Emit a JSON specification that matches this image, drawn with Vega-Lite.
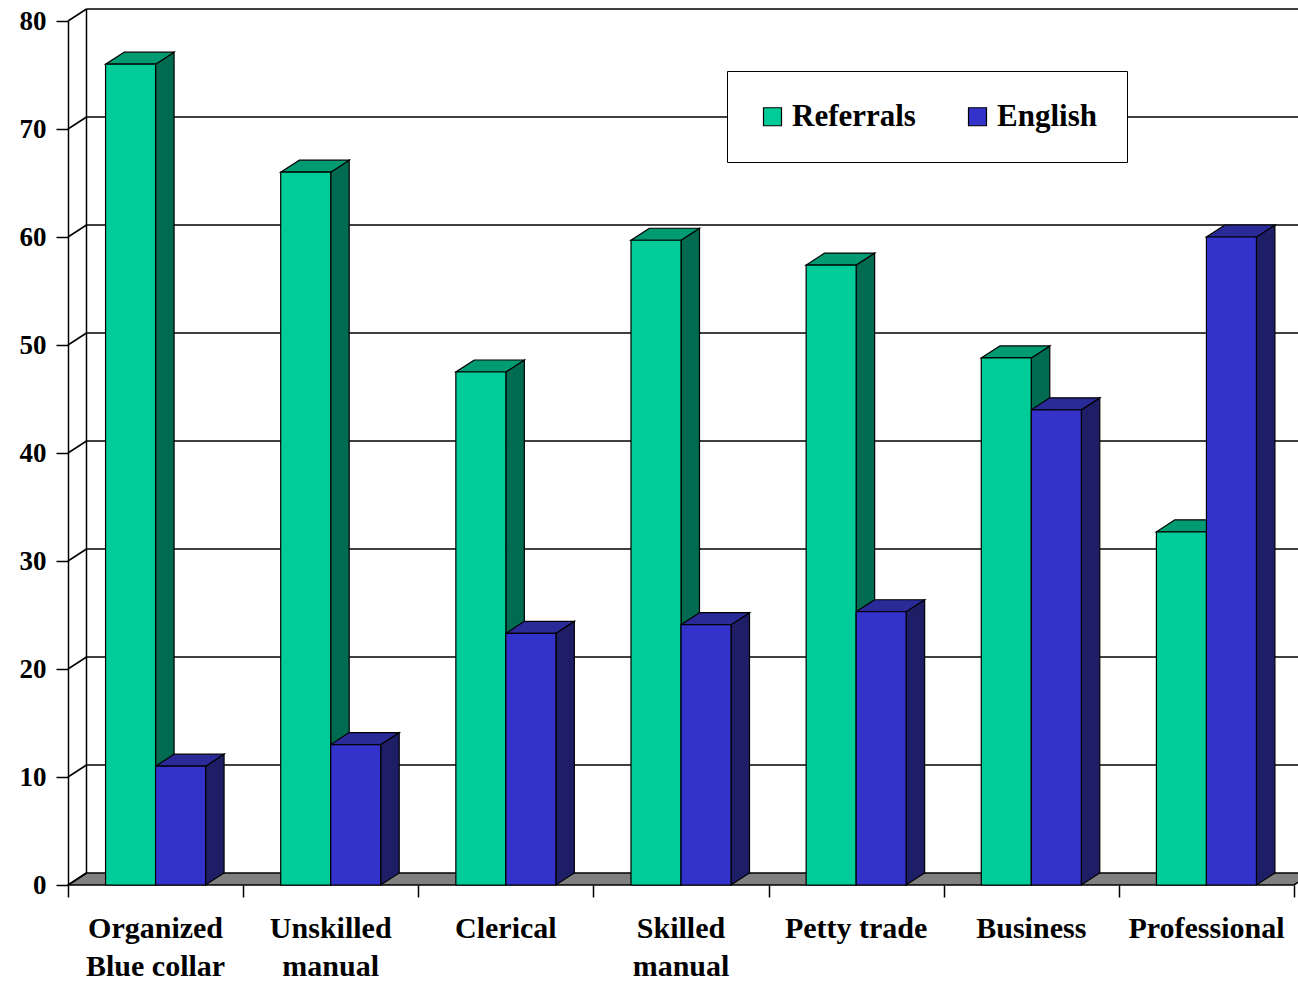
{
  "$schema": "https://vega.github.io/schema/vega-lite/v6.json",
  "width": 1226,
  "height": 864,
  "autosize": {"type": "none"},
  "padding": {"left": 68, "top": 21, "right": 4, "bottom": 97},
  "background": "white",
  "config": {"view": {"stroke": null}, "font": "Liberation Serif"},
  "params": [
    {"name": "dx", "value": 0.1056},
    {"name": "dy", "value": 1.111},
    {"name": "bw", "value": 0.2855}
  ],
  "datasets": {
    "jobs": [
      {"occupation": "Organized\nBlue collar", "Referrals": 76, "English": 11},
      {"occupation": "Unskilled\nmanual", "Referrals": 66, "English": 13},
      {"occupation": "Clerical", "Referrals": 47.5, "English": 23.3},
      {"occupation": "Skilled\nmanual", "Referrals": 59.7, "English": 24.1},
      {"occupation": "Petty trade", "Referrals": 57.4, "English": 25.3},
      {"occupation": "Business", "Referrals": 48.8, "English": 44},
      {"occupation": "Professional", "Referrals": 32.7, "English": 60}
    ],
    "ticks": [
      {"v": 0}, {"v": 10}, {"v": 20}, {"v": 30}, {"v": 40},
      {"v": 50}, {"v": 60}, {"v": 70}, {"v": 80}
    ]
  },
  "data": {"name": "jobs"},
  "transform": [
    {"window": [{"op": "row_number", "as": "rank"}]},
    {"calculate": "datum.rank - 1", "as": "idx"},
    {"fold": ["Referrals", "English"], "as": ["series", "pct"]},
    {"calculate": "datum.idx + 0.5 - (datum.series === 'Referrals' ? bw : 0)", "as": "x0"},
    {"calculate": "datum.x0 + bw", "as": "x1"}
  ],
  "encoding": {
    "x": {
      "field": "xa",
      "type": "quantitative",
      "stack": null,
      "scale": {"domain": [0, 7], "nice": false, "zero": false},
      "axis": {
        "values": [0, 1, 2, 3, 4, 5, 6, 7],
        "labels": false,
        "domain": false,
        "grid": false,
        "tickSize": 12,
        "tickWidth": 1.5,
        "tickColor": "black",
        "title": null
      }
    },
    "y": {
      "field": "ya",
      "type": "quantitative",
      "stack": null,
      "scale": {"domain": [0, 80], "nice": false, "zero": false},
      "axis": {
        "values": [0, 10, 20, 30, 40, 50, 60, 70, 80],
        "grid": false,
        "domain": true,
        "domainColor": "black",
        "domainWidth": 1.5,
        "tickColor": "black",
        "tickWidth": 1.5,
        "tickSize": 12,
        "labelFont": "Liberation Serif",
        "labelFontSize": 27,
        "labelFontWeight": "bold",
        "labelColor": "black",
        "labelPadding": 10,
        "title": null
      }
    }
  },
  "layer": [
    {
      "data": {"name": "ticks"},
      "transform": [
        {"filter": "datum.v === 0"},
        {"calculate": "[0, 1]", "as": "d"},
        {"flatten": ["d"]},
        {"calculate": "datum.d * dx", "as": "xa"},
        {"calculate": "7 + datum.d * dx", "as": "xb"},
        {"calculate": "datum.d * dy", "as": "ya"}
      ],
      "mark": {"type": "area", "orient": "horizontal", "fill": "#808080", "stroke": "black", "strokeWidth": 1.5, "opacity": 1},
      "encoding": {"x2": {"field": "xb"}}
    },
    {
      "data": {"name": "ticks"},
      "transform": [
        {"calculate": "0", "as": "xa"},
        {"calculate": "dx", "as": "xb"},
        {"calculate": "datum.v", "as": "ya"},
        {"calculate": "datum.v + dy", "as": "yb"}
      ],
      "mark": {"type": "rule", "color": "black", "strokeWidth": 1.5},
      "encoding": {"x2": {"field": "xb"}, "y2": {"field": "yb"}}
    },
    {
      "data": {"name": "ticks"},
      "transform": [
        {"filter": "datum.v > 0"},
        {"calculate": "dx", "as": "xa"},
        {"calculate": "7 + dx", "as": "xb"},
        {"calculate": "datum.v + dy", "as": "ya"}
      ],
      "mark": {"type": "rule", "color": "black", "strokeWidth": 1.5},
      "encoding": {"x2": {"field": "xb"}}
    },
    {
      "data": {"name": "ticks"},
      "transform": [
        {"aggregate": [{"op": "min", "field": "v", "as": "lo"}, {"op": "max", "field": "v", "as": "hi"}]},
        {"calculate": "dx", "as": "xa"},
        {"calculate": "datum.lo + dy", "as": "ya"},
        {"calculate": "datum.hi + dy", "as": "yb"}
      ],
      "mark": {"type": "rule", "color": "black", "strokeWidth": 1.5},
      "encoding": {"y2": {"field": "yb"}}
    },
    {
      "transform": [
        {"calculate": "[0, 1]", "as": "d"},
        {"flatten": ["d"]},
        {"calculate": "datum.x1 + datum.d * dx", "as": "xa"},
        {"calculate": "datum.pct + datum.d * dy", "as": "ya"},
        {"calculate": "datum.d * dy", "as": "yb"},
        {"calculate": "datum.series + ' side'", "as": "face"}
      ],
      "mark": {"type": "area", "orient": "vertical", "stroke": "black", "strokeWidth": 1.2, "opacity": 1},
      "encoding": {
        "y2": {"field": "yb"},
        "fill": {
          "field": "face",
          "type": "nominal",
          "scale": {
            "domain": ["Referrals side", "English side", "Referrals top", "English top"],
            "range": ["#006B50", "#1E1E66", "#009A73", "#2A2A99"]
          },
          "legend": null
        },
        "detail": {"field": "idx"}
      }
    },
    {
      "transform": [
        {"calculate": "[0, 1]", "as": "d"},
        {"flatten": ["d"]},
        {"calculate": "datum.x0 + datum.d * dx", "as": "xa"},
        {"calculate": "datum.x1 + datum.d * dx", "as": "xb"},
        {"calculate": "datum.pct + datum.d * dy", "as": "ya"},
        {"calculate": "datum.series + ' top'", "as": "face"}
      ],
      "mark": {"type": "area", "orient": "horizontal", "stroke": "black", "strokeWidth": 1.2, "opacity": 1},
      "encoding": {
        "x2": {"field": "xb"},
        "fill": {
          "field": "face",
          "type": "nominal",
          "scale": {
            "domain": ["Referrals side", "English side", "Referrals top", "English top"],
            "range": ["#006B50", "#1E1E66", "#009A73", "#2A2A99"]
          },
          "legend": null
        },
        "detail": {"field": "idx"}
      }
    },
    {
      "transform": [
        {"calculate": "datum.x0", "as": "xa"},
        {"calculate": "datum.x1", "as": "xb"},
        {"calculate": "datum.pct", "as": "ya"},
        {"calculate": "0", "as": "yb"}
      ],
      "mark": {"type": "rect", "stroke": "black", "strokeWidth": 1.2, "opacity": 1},
      "encoding": {
        "x2": {"field": "xb"},
        "y2": {"field": "yb"},
        "color": {
          "field": "series",
          "type": "nominal",
          "scale": {"domain": ["Referrals", "English"], "range": ["#00CC99", "#3333CC"]},
          "legend": {
            "title": null,
            "orient": "none",
            "legendX": 659,
            "legendY": 50,
            "direction": "horizontal",
            "fillColor": "white",
            "strokeColor": "black",
            "padding": 30,
            "labelFont": "Liberation Serif",
            "labelFontSize": 31,
            "labelFontWeight": "bold",
            "labelColor": "black",
            "labelOffset": 4,
            "symbolType": "square",
            "symbolSize": 324,
            "symbolStrokeColor": "black",
            "symbolStrokeWidth": 1.2,
            "symbolOpacity": 1,
            "columnPadding": 46
          }
        }
      }
    },
    {
      "transform": [
        {"filter": "datum.series === 'Referrals'"},
        {"calculate": "datum.idx + 0.5", "as": "xa"},
        {"calculate": "0", "as": "ya"}
      ],
      "mark": {
        "type": "text",
        "font": "Liberation Serif",
        "fontSize": 30,
        "fontWeight": "bold",
        "color": "black",
        "baseline": "alphabetic",
        "align": "center",
        "dy": 53,
        "lineBreak": "\n",
        "lineHeight": 38
      },
      "encoding": {"text": {"field": "occupation"}}
    }
  ]
}
